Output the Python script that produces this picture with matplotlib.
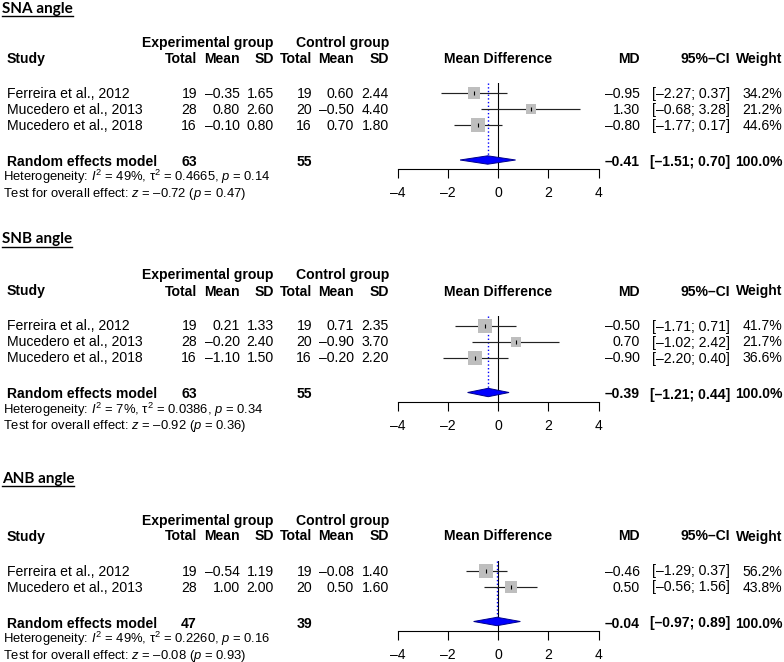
import matplotlib
matplotlib.use("Agg")
import matplotlib.pyplot as plt
from matplotlib.patches import Polygon

plt.rcParams['font.family'] = ['Liberation Sans', 'DejaVu Sans']
plt.rcParams['mathtext.fontset'] = 'custom'
plt.rcParams['mathtext.rm'] = 'Liberation Sans'
plt.rcParams['mathtext.it'] = 'Liberation Sans:italic'
plt.rcParams['mathtext.bf'] = 'Liberation Sans:bold'

# ---------------- data ----------------
titles = ["SNA angle", "SNB angle", "ANB angle"]

studies_sna = ["Ferreira et al., 2012", "Mucedero et al., 2013", "Mucedero et al., 2018"]
exp_n_sna = [19, 28, 16]
exp_mean_sna = [-0.35, 0.80, -0.10]
exp_sd_sna = [1.65, 2.60, 0.80]
ctl_n_sna = [19, 20, 16]
ctl_mean_sna = [0.60, -0.50, 0.70]
ctl_sd_sna = [2.44, 4.40, 1.80]
md_sna = [-0.95, 1.30, -0.80]
lo_sna = [-2.27, -0.68, -1.77]
hi_sna = [0.37, 3.28, 0.17]
w_sna = [34.2, 21.2, 44.6]
re_sna = [-0.41, -1.51, 0.70]
tot_sna = [63, 55]
het_sna = ["49%", "0.4665", "0.14"]
test_sna = ["–0.72", "0.47"]

studies_snb = ["Ferreira et al., 2012", "Mucedero et al., 2013", "Mucedero et al., 2018"]
exp_n_snb = [19, 28, 16]
exp_mean_snb = [0.21, -0.20, -1.10]
exp_sd_snb = [1.33, 2.40, 1.50]
ctl_n_snb = [19, 20, 16]
ctl_mean_snb = [0.71, -0.90, -0.20]
ctl_sd_snb = [2.35, 3.70, 2.20]
md_snb = [-0.50, 0.70, -0.90]
lo_snb = [-1.71, -1.02, -2.20]
hi_snb = [0.71, 2.42, 0.40]
w_snb = [41.7, 21.7, 36.6]
re_snb = [-0.39, -1.21, 0.44]
tot_snb = [63, 55]
het_snb = ["7%", "0.0386", "0.34"]
test_snb = ["–0.92", "0.36"]

studies_anb = ["Ferreira et al., 2012", "Mucedero et al., 2013"]
exp_n_anb = [19, 28]
exp_mean_anb = [-0.54, 1.00]
exp_sd_anb = [1.19, 2.00]
ctl_n_anb = [19, 20]
ctl_mean_anb = [-0.08, 0.50]
ctl_sd_anb = [1.40, 1.60]
md_anb = [-0.46, 0.50]
lo_anb = [-1.29, -0.56]
hi_anb = [0.37, 1.56]
w_anb = [56.2, 43.8]
re_anb = [-0.04, -0.97, 0.89]
tot_anb = [47, 39]
het_anb = ["49%", "0.2260", "0.16"]
test_anb = ["–0.08", "0.93"]

x_ticks = [-4, -2, 0, 2, 4]

panels = [
    dict(title=titles[0], studies=studies_sna, en=exp_n_sna, em=exp_mean_sna, es=exp_sd_sna,
         cn=ctl_n_sna, cm=ctl_mean_sna, cs=ctl_sd_sna, md=md_sna, lo=lo_sna, hi=hi_sna,
         w=w_sna, re=re_sna, tot=tot_sna, het=het_sna, test=test_sna),
    dict(title=titles[1], studies=studies_snb, en=exp_n_snb, em=exp_mean_snb, es=exp_sd_snb,
         cn=ctl_n_snb, cm=ctl_mean_snb, cs=ctl_sd_snb, md=md_snb, lo=lo_snb, hi=hi_snb,
         w=w_snb, re=re_snb, tot=tot_snb, het=het_snb, test=test_snb),
    dict(title=titles[2], studies=studies_anb, en=exp_n_anb, em=exp_mean_anb, es=exp_sd_anb,
         cn=ctl_n_anb, cm=ctl_mean_anb, cs=ctl_sd_anb, md=md_anb, lo=lo_anb, hi=hi_anb,
         w=w_anb, re=re_anb, tot=tot_anb, het=het_anb, test=test_anb),
]

# ---------------- layout ----------------
W, H = 784, 662
fig = plt.figure(figsize=(W / 100, H / 100), dpi=100)
bg = fig.add_axes([0, 0, 1, 1])
bg.set_xlim(0, W)
bg.set_ylim(H, 0)
bg.axis('off')

FS = 10.1
FS_HET = 9.4
title_y = [7, 238, 477]
header_y = [42, 274.5, 519.5]


def f(v, d=2):
    return f"{v:.{d}f}".replace("-", "\u2013")


def txt(x, y, s, ha='left', bold=False, size=FS):
    bg.text(x, y + 5, s, ha=ha, va='baseline', fontsize=size,
            fontweight='bold' if bold else 'normal')


fig.canvas.draw()
renderer = fig.canvas.get_renderer()

for p, ty, H0 in zip(panels, title_y, header_y):
    # title with underline
    t = bg.text(2, ty + 5.5, p['title'], ha='left', va='baseline', fontsize=11.0,
                fontweight='bold', family=['Lato', 'DejaVu Sans'])
    bb = t.get_window_extent(renderer)
    bg.plot([bb.x0, bb.x1], [ty + 8.5, ty + 8.5], color='black', lw=1.0)

    txt(274, H0, "Experimental group", ha='right', bold=True)
    txt(389, H0, "Control group", ha='right', bold=True)
    txt(7, H0 + 16, "Study", bold=True)
    for xr, lab in zip([197, 240, 274, 312, 354, 389],
                       ["Total", "Mean", "SD", "Total", "Mean", "SD"]):
        txt(xr, H0 + 16, lab, ha='right', bold=True)
    txt(498, H0 + 16, "Mean Difference", ha='center', bold=True)
    txt(640, H0 + 16, "MD", ha='right', bold=True)
    txt(730, H0 + 16, "95%–CI", ha='right', bold=True)
    txt(782.5, H0 + 16, "Weight", ha='right', bold=True)

    rows = [H0 + 51 + 16 * i for i in range(len(p['studies']))]
    for i, y in enumerate(rows):
        txt(7, y, p['studies'][i])
        txt(197, y, str(p['en'][i]), ha='right')
        txt(240, y, f(p['em'][i]), ha='right')
        txt(274, y, f(p['es'][i]), ha='right')
        txt(312, y, str(p['cn'][i]), ha='right')
        txt(354, y, f(p['cm'][i]), ha='right')
        txt(389, y, f(p['cs'][i]), ha='right')
        txt(640, y, f(p['md'][i]), ha='right')
        txt(730, y, f"[{f(p['lo'][i])}; {f(p['hi'][i])}]", ha='right')
        txt(782.5, y, f"{p['w'][i]:.1f}%", ha='right')

    re_y = rows[-1] + 36
    txt(7, re_y, "Random effects model", bold=True)
    txt(197, re_y, str(p['tot'][0]), ha='right', bold=True)
    txt(312, re_y, str(p['tot'][1]), ha='right', bold=True)
    txt(640, re_y, f(p['re'][0]), ha='right', bold=True)
    txt(730, re_y, f"[{f(p['re'][1])}; {f(p['re'][2])}]", ha='right', bold=True)
    txt(782.5, re_y, "100.0%", ha='right', bold=True)

    i2, tau2, ph = p['het']
    txt(3, re_y + 15.5,
        f"Heterogeneity: $I^2$ = {i2}, $\\mathrm{{τ}}^2$ = {tau2}, $p$ = {ph}",
        size=FS_HET)
    z, pz = p['test']
    txt(3, re_y + 31, f"Test for overall effect: $z$ = {z} ($p$ = {pz})", size=FS_HET)

    # forest plot axes
    top = rows[0] - 10
    axis_y = re_y + 8
    ax = fig.add_axes([397.5 / W, 1 - axis_y / H, 201 / W, (axis_y - top) / H])
    ax.set_xlim(-4, 4)
    ax.set_ylim(axis_y, top)
    ax.patch.set_alpha(0)
    for s in ['top', 'left', 'right']:
        ax.spines[s].set_visible(False)
    ax.spines['bottom'].set_linewidth(0.8)
    ax.set_yticks([])
    ax.set_xticks(x_ticks)
    ax.set_xticklabels([f(v, 0) for v in x_ticks])
    ax.tick_params(axis='x', length=6.5, width=0.8, pad=6.0, labelsize=FS)

    ax.axvline(0, color='black', lw=0.8, zorder=1)
    h = 4.2
    ax.plot([p['re'][0]] * 2, [top, re_y - 1 - h], color='blue', ls=':', lw=1.0, zorder=1.5)

    wmax = max(p['w'])
    for i, y in enumerate(rows):
        ax.plot([p['lo'][i], p['hi'][i]], [y, y], color='#222222', lw=0.85, zorder=2,
                solid_capstyle='butt')
        side_px = 14 * (p['w'][i] / wmax) ** 0.5
        ax.plot(p['md'][i], y, marker='s', ms=side_px * 0.72, color='#BEBEBE', mew=0,
                zorder=3)
        ax.plot(p['md'][i], y, marker='|', ms=3.2, color='black', mew=0.8, zorder=4)

    dy = re_y - 1
    est, lo, hi = p['re']
    ax.add_patch(Polygon([(lo, dy), (est, dy - h), (hi, dy), (est, dy + h)], closed=True,
                         facecolor='#0000FF', edgecolor='#00008B', lw=0.7, zorder=5,
                         clip_on=False))

fig.savefig("out.png", dpi=100)
